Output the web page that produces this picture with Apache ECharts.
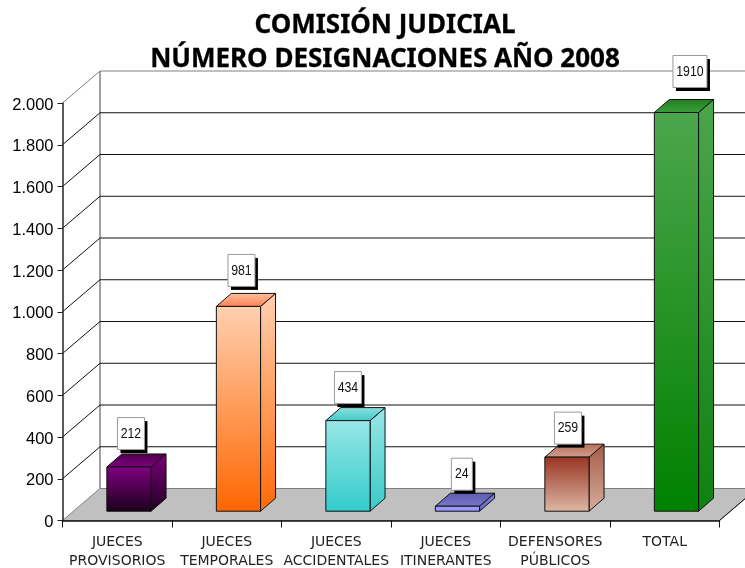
<!DOCTYPE html>
<html><head><meta charset="utf-8">
<style>html,body{margin:0;padding:0;background:#fff;overflow:hidden}#c{width:745px;height:568px}</style>
<script src="https://cdn.jsdelivr.net/npm/echarts@6/dist/echarts.min.js"></script>
</head><body><div id="c"></div>
<script>
const categories = ['JUECES\nPROVISORIOS','JUECES\nTEMPORALES','JUECES\nACCIDENTALES','JUECES\nITINERANTES','DEFENSORES\nPÚBLICOS','TOTAL'];
const values = [212, 981, 434, 24, 259, 1910];
const yTicks = [0,200,400,600,800,1000,1200,1400,1600,1800,2000];
const yTickLabels = ['0','200','400','600','800','1.000','1.200','1.400','1.600','1.800','2.000'];
const titleLines = ['COMISIÓN JUDICIAL','NÚMERO DESIGNACIONES AÑO 2008'];

// styling (not data)
const wall = {dx:37.5, dy:32};
const bar = {dx:15, dy:13, startX:11.7, startY:9.3, width:44.2};
const palette = [
  {front:['#800080','#1a001a'], side:['#7a007a','#200020'], top:['#4d004d','#800080']},
  {front:['#ffd0b0','#ff6600'], side:['#ffd0b0','#ff6a08'], top:['#ffc0a0','#ff8050']},
  {front:['#99e6e6','#33cccc'], side:['#99e6e6','#38caca'], top:['#8de0e0','#40c8c8']},
  {front:['#9999ff','#9999ff'], side:['#8080e0','#6a6ac0'], top:['#5c5cb0','#7a7ac8']},
  {front:['#993322','#ddb8a5'], side:['#a55c4a','#d6ad9a'], top:['#b8705c','#cf9f8c']},
  {front:['#4ca64c','#008000'], side:['#4ca64c','#108010'], top:['#1f7f1f','#3f9f3f']}
];
const labelNudge = [[2,17.4],[3,20],[0,17],[4.4,16],[1,13],[13.5,25]];
const labelWidth = {1:21,2:21,3:27,4:34};

const grad = c => new echarts.graphic.LinearGradient(0,0,0,1,[{offset:0,color:c[0]},{offset:1,color:c[1]}]);
const line = (x1,y1,x2,y2,stroke,w) => ({type:'line',shape:{x1,y1,x2,y2},style:{stroke,lineWidth:w||1}});

const chart = echarts.init(document.getElementById('c'),null,{renderer:'canvas'});
chart.setOption({
  animation:false,
  backgroundColor:'#fff',
  title:{
    text:titleLines.join('\n'),
    left:380, top:3.5, textAlign:'center',
    textStyle:{fontFamily:'Noto Sans',fontWeight:'bold',fontSize:26,lineHeight:34,color:'#000',textBorderColor:'#000',textBorderWidth:0.3}
  },
  grid:{left:62.5,right:25.5,top:103,bottom:47.5,containLabel:false,outerBoundsMode:'none'},
  xAxis:{
    type:'category',data:categories,boundaryGap:true,
    axisLine:{lineStyle:{color:'#111',width:1.5}},
    axisTick:{show:true,length:7,lineStyle:{color:'#111'},alignWithLabel:false},
    axisLabel:{interval:0,margin:12,fontFamily:'DejaVu Sans',fontSize:14,lineHeight:19,color:'#222'},
    z:5
  },
  yAxis:{
    type:'value',min:0,max:2000,interval:200,
    axisLine:{show:true,lineStyle:{color:'#222',width:1.5}},
    axisTick:{show:true,length:5,lineStyle:{color:'#222'}},
    splitLine:{show:false},
    axisLabel:{margin:9,fontFamily:'Liberation Sans',fontSize:16.5,color:'#000',
      rich:{t:{fontFamily:'Liberation Sans',fontSize:16.5,color:'#000',padding:[4,0,0,0]}},
      formatter:v=>'{t|'+yTickLabels[yTicks.indexOf(v)]+'}'},
    z:5
  },
  series:[
    { // floor
      type:'custom',z:1,silent:true,clip:false,data:[[0,0]],
      renderItem(p,api){
        const w=api.size([1,0])[0];
        const a=api.coord([0,0]);
        const x0=a[0]-w/2,y0=a[1],x1=x0+w*categories.length;
        return {type:'polygon',shape:{points:[[x0,y0],[x0+wall.dx,y0-wall.dy],[x1+wall.dx,y0-wall.dy],[x1,y0]]},
          style:{fill:'#c0c0c0',stroke:'#808080',lineWidth:1}};
      }
    },
    { // walls
      type:'custom',z:2,silent:true,clip:false,
      data:yTicks.map(v=>[0,v]),
      renderItem(p,api){
        const w=api.size([1,0])[0];
        const a=api.coord([0,api.value(1)]);
        const x0=a[0]-w/2,y=a[1],x1=x0+w*categories.length;
        const v=api.value(1);
        const col=v===2000?'#808080':'#111';
        const ch=[];
        if(v>0){
          ch.push(line(x0,y,x0+wall.dx,y-wall.dy,col));
          ch.push(line(x0+wall.dx,y-wall.dy,x1+wall.dx,y-wall.dy,col));
        } else {
          const t=api.coord([0,2000])[1];
          ch.push(line(x0+wall.dx,y-wall.dy,x0+wall.dx,t-wall.dy,'#808080',1.5));
          ch.push(line(x1,y,x1+wall.dx,y-wall.dy,'#111'));
        }
        return {type:'group',children:ch};
      }
    },
    { // bars and value tags
      type:'custom',z:3,silent:true,clip:false,
      data:values.map((v,i)=>[i,v]),
      encode:{x:0,y:1},
      renderItem(p,api){
        const i=api.value(0),v=api.value(1);
        const base=api.coord([i,0]),tp=api.coord([i,v]);
        const cx=base[0]+bar.startX,h=base[1]-tp[1];
        const xl=cx-bar.width/2,xr=cx+bar.width/2,yb=base[1]-bar.startY,yt=yb-h;
        const s=palette[i],edge='#111';
        const str=String(v),bw=labelWidth[str.length],bh=32;
        const n=labelNudge[i];
        const bx=cx+n[0]-bw/2,by=yt-n[1]-bh;
        return {type:'group',children:[
          {type:'polygon',shape:{points:[[xr,yb],[xr+bar.dx,yb-bar.dy],[xr+bar.dx,yt-bar.dy],[xr,yt]]},style:{fill:grad(s.side),stroke:edge,lineWidth:1}},
          {type:'polygon',shape:{points:[[xl,yt],[xl+bar.dx,yt-bar.dy],[xr+bar.dx,yt-bar.dy],[xr,yt]]},style:{fill:grad(s.top),stroke:edge,lineWidth:1}},
          {type:'rect',shape:{x:xl,y:yt,width:bar.width,height:h},style:{fill:grad(s.front),stroke:edge,lineWidth:1}},
          {type:'rect',shape:{x:bx+3,y:by+3.5,width:bw,height:bh},style:{fill:'#000'}},
          {type:'rect',shape:{x:bx,y:by,width:bw,height:bh},style:{fill:'#fff',stroke:'#999',lineWidth:1}},
          {type:'text',x:bx+bw/2,y:by+bh/2,scaleX:0.82,style:{x:0,y:0,text:str,fill:'#111',font:'15px "Liberation Sans"',align:'center',verticalAlign:'middle'}}
        ]};
      }
    }
  ]
});
</script></body></html>
